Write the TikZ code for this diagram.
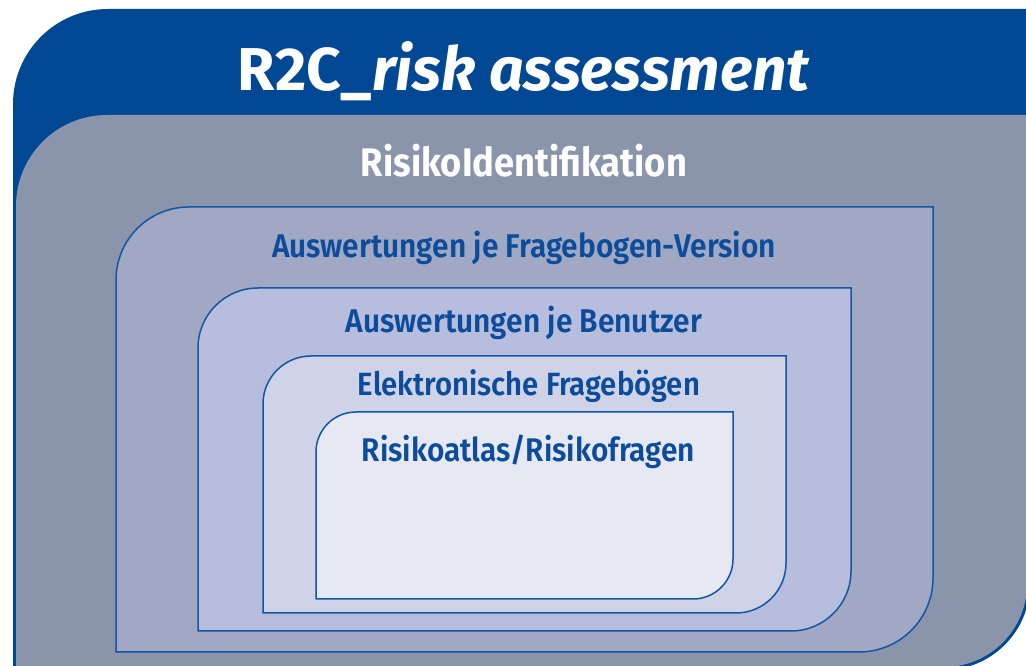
\documentclass[tikz,border=0pt]{standalone}
\usepackage{fontspec}
\usepackage{graphicx}
\setmainfont{Fira Sans}
\newfontfamily\labelfont{Fira Sans SemiBold}

\definecolor{headblue}{HTML}{004894}
\definecolor{framegray}{HTML}{8A94AB}
\definecolor{edgeblue}{HTML}{1456A2}
\definecolor{textblue}{HTML}{0D4C9A}
\definecolor{levelA}{HTML}{A1A8C3}
\definecolor{levelB}{HTML}{B7BDDD}
\definecolor{levelC}{HTML}{CFD3E7}
\definecolor{levelD}{HTML}{E6E8F3}

% text set to a given width, a little taller than the font draws it
\newcommand\fitline[2]{\scalebox{1}[1.1]{\resizebox{#1}{!}{#2}}}

\tikzset{
  % box with rounded top-left and bottom-right corners;
  % args: left, top, right, bottom (measured downwards from the top), radius TL, radius BR
  panel/.style n args={6}{insert path={
    (#1,{666-(#4)}) -- (#1,{666-(#2)-(#5)})
    arc[start angle=180,end angle=90,radius=#5]
    -- (#3,{666-(#2)}) -- (#3,{666-(#4)+(#6)})
    arc[start angle=0,end angle=-90,radius=#6] -- cycle}},
  level/.style={draw=edgeblue, line width=1.5pt},
  headtext/.style={text=white, font=\bfseries, anchor=base, inner sep=0pt},
  leveltext/.style={text=textblue, font=\labelfont, anchor=base, inner sep=0pt},
}

\begin{document}
\begin{tikzpicture}[x=1pt,y=1pt]
\useasboundingbox (0,0) rectangle (1026,666);
\clip (0,0) rectangle (1026,666);

% outer frame and grey body
\path[fill=headblue, panel={13}{9}{1030}{670}{95}{86}];
\path[fill=framegray, panel={16}{115}{1027}{667}{91}{83}];

% nested levels
\path[level, fill=levelA, panel={116}{207}{933}{652}{73}{74}];
\path[level, fill=levelB, panel={198}{288}{851}{631}{60}{60}];
\path[level, fill=levelC, panel={263}{356}{786}{613}{48}{50}];
\path[level, fill=levelD, panel={316}{412}{733}{599}{40}{40}];

% texts
\node[headtext] (title) at (524,{666-91})
  {\resizebox{572pt}{!}{R2C\_\textit{risk assessment}}};
\node[headtext] (ident) at (524,{666-177})
  {\fitline{326pt}{RisikoIdentifikation}};
\node[leveltext] (versions) at (524,{666-258})
  {\fitline{504pt}{Auswertungen je Fragebogen-Version}};
\node[leveltext] (users) at (524,{666-333})
  {\fitline{356pt}{Auswertungen je Benutzer}};
\node[leveltext] (forms) at (529,{666-396})
  {\fitline{342pt}{Elektronische Fragebögen}};
\node[leveltext] (atlas) at (528.5,{666-462})
  {\fitline{333pt}{Risikoatlas/Risikofragen}};
\end{tikzpicture}
\end{document}
